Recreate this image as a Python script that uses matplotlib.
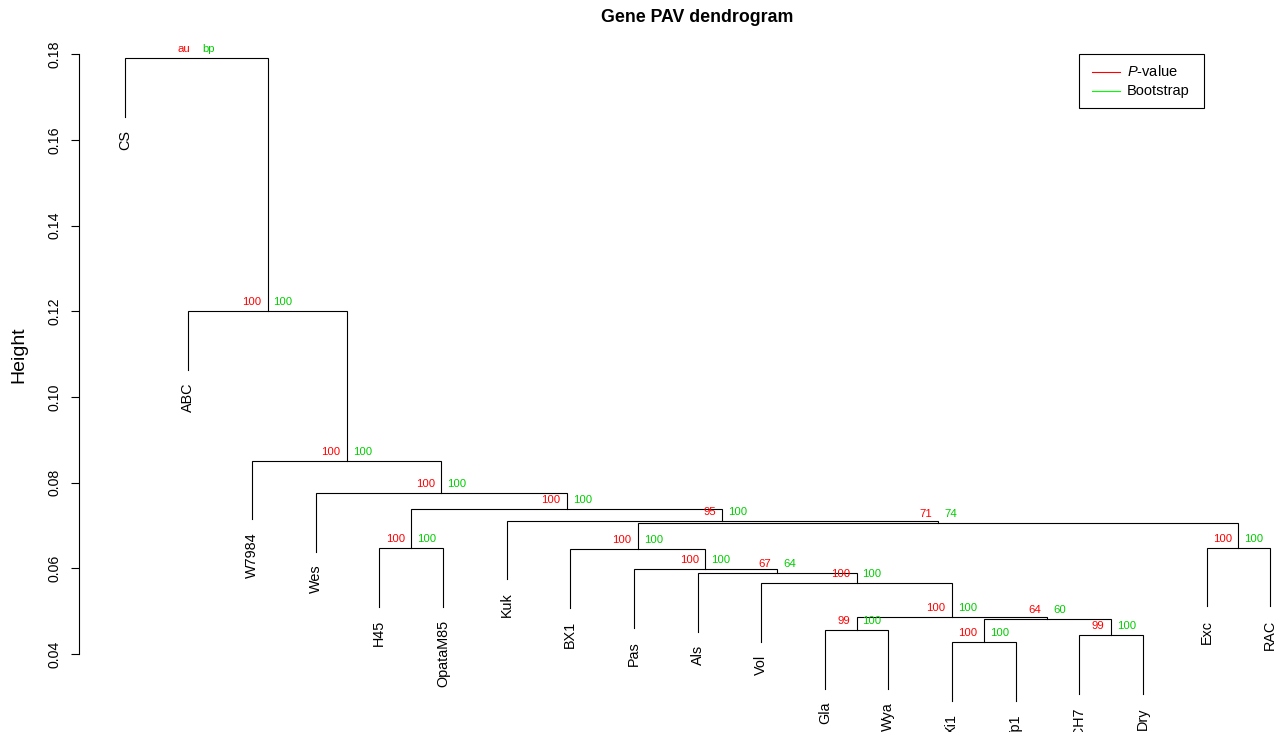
"""
Redraw the gene PAV dendrogram (pvclust style) with au / bp values.
"""

import matplotlib

matplotlib.use("Agg")
import matplotlib.pyplot as plt
from matplotlib.lines import Line2D
from matplotlib.patches import Rectangle

plt.rcParams["font.family"] = ["Liberation Sans", "DejaVu Sans"]
plt.rcParams["mathtext.fontset"] = "custom"
plt.rcParams["mathtext.rm"] = "Liberation Sans"
plt.rcParams["mathtext.it"] = "Liberation Sans:italic"

# leaves in plotting order
LEAF_LABELS = [
    "CS", "ABC", "W7984", "Wes", "H45", "OpataM85", "Kuk", "BX1", "Pas",
    "Als", "Vol", "Gla", "Wya", "Xi1", "Yp1", "ZCH7", "Dry", "Exc", "RAC",
]

# hclust-style merges: negative = leaf number, positive = earlier merge number
MERGE_LEFT = [-14, -16, -12, 1, 3, -11, -10, -9, -8, -5, -18, 9, -7, 10, -4, -3, -2, -1]
MERGE_RIGHT = [-15, -17, -13, 2, 4, 5, 6, 7, 8, -6, -19, 11, 12, 13, 14, 15, 16, 17]
MERGE_HEIGHT = [
    0.0428, 0.0444, 0.0456, 0.0482, 0.0487, 0.0566, 0.0588, 0.0598, 0.0645,
    0.0647, 0.0648, 0.0705, 0.0711, 0.0738, 0.0776, 0.0851, 0.1201, 0.1791,
]
AU_VALUES = [100, 99, 99, 64, 100, 100, 67, 100, 100, 100, 100, 71, 95, 100, 100, 100, 100, "au"]
BP_VALUES = [100, 100, 100, 60, 100, 100, 64, 100, 100, 100, 100, 74, 100, 100, 100, 100, 100, "bp"]

Y_TICKS = [0.04, 0.06, 0.08, 0.10, 0.12, 0.14, 0.16, 0.18]
HANG = 0.0137

AU_COLOR = "#FF0000"
BP_COLOR = "#00CD00"
FIG_W, FIG_H = 1275, 732


def node_position(ref: int, xs: list[float]) -> float:
    """x of a leaf (negative ref) or an earlier merge (positive ref)."""
    if ref < 0:
        return float(-ref)
    return xs[ref - 1]


def draw_dendrogram(ax) -> None:
    """Draw the tree, leaf labels and au/bp values."""
    xs: list[float] = []
    for i, (left, right, height) in enumerate(zip(MERGE_LEFT, MERGE_RIGHT, MERGE_HEIGHT)):
        child_pts = []
        for ref in (left, right):
            x = node_position(ref, xs)
            if ref < 0:
                y = height - HANG
                ax.annotate(LEAF_LABELS[-ref - 1], (x, y), xytext=(0, -9.5),
                            textcoords="offset points", rotation=90, ha="center",
                            va="top", fontsize=10.4, annotation_clip=False)
            else:
                y = MERGE_HEIGHT[ref - 1]
            child_pts.append((x, y))
        (xl, yl), (xr, yr) = child_pts
        ax.plot([xl, xl, xr, xr], [yl, height, height, yr], color="black", lw=0.8,
                clip_on=False, solid_joinstyle="miter")
        xm = (xl + xr) / 2
        xs.append(xm)

        ax.annotate(str(AU_VALUES[i]), (xm, height), xytext=(-4.6, 6.6),
                    textcoords="offset points", ha="right", va="center",
                    fontsize=8.2, color=AU_COLOR, annotation_clip=False)
        ax.annotate(str(BP_VALUES[i]), (xm, height), xytext=(4.3, 6.6),
                    textcoords="offset points", ha="left", va="center",
                    fontsize=8.2, color=BP_COLOR, annotation_clip=False)


def draw_legend(fig) -> None:
    """R-style legend box in the top right corner."""
    def fx(px):
        return px / FIG_W

    def fy(py):
        return 1 - py / FIG_H

    fig.add_artist(Rectangle((fx(1079), fy(108)), fx(1204) - fx(1079), fy(54) - fy(108),
                             transform=fig.transFigure, fill=False, edgecolor="black", lw=0.8))
    for label, color, py in (("$P$-value", "#FF0000", 72), ("Bootstrap", "#00FF00", 91)):
        fig.add_artist(Line2D([fx(1092), fx(1120)], [fy(py), fy(py)],
                              transform=fig.transFigure, color=color, lw=0.8))
        fig.text(fx(1127), fy(py), label, ha="left", va="center", fontsize=10.5)


def main() -> None:
    fig = plt.figure(figsize=(FIG_W / 100, FIG_H / 100), dpi=100)
    ax = fig.add_axes([79 / FIG_W, 0, 1237 / FIG_W, 702 / FIG_H])

    n = len(LEAF_LABELS)
    ax.set_xlim(1 - 0.04 * (n - 1), n + 0.04 * (n - 1))
    ax.set_ylim(0.02179, 0.18567)

    draw_dendrogram(ax)

    for side in ("top", "right", "bottom"):
        ax.spines[side].set_visible(False)
    ax.spines["left"].set_bounds(Y_TICKS[0], Y_TICKS[-1])
    ax.spines["left"].set_linewidth(0.8)
    ax.set_xticks([])
    ax.set_yticks(Y_TICKS)
    ax.set_yticklabels([f"{t:.2f}" for t in Y_TICKS], rotation=90, va="center", fontsize=10.2)
    ax.tick_params(axis="y", length=5.8, width=0.8, pad=6.5)

    fig.text(18.5 / FIG_W, 1 - 355 / FIG_H, "Height", rotation=90, ha="center",
             va="center", fontsize=14)
    fig.text(697.5 / FIG_W, 1 - 17 / FIG_H, "Gene PAV dendrogram", ha="center",
             va="center", fontsize=12.8, fontweight="bold")

    draw_legend(fig)
    fig.savefig("out.png", dpi=100)


if __name__ == "__main__":
    main()
